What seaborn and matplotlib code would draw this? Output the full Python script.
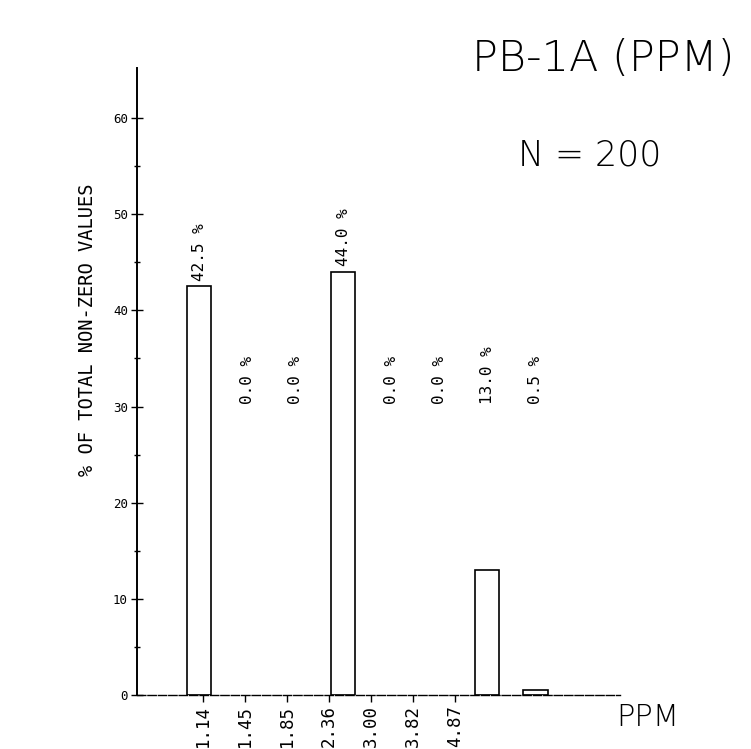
import matplotlib
matplotlib.use("Agg")
import matplotlib.pyplot as plt
import seaborn as sns
import pandas as pd
import numpy as np

# Data
bins = ["b1", "b2", "b3", "b4", "b5", "b6", "b7", "b8"]
percent = [42.5, 0.0, 0.0, 44.0, 0.0, 0.0, 13.0, 0.5]
bar_labels = ["42.5 %", "0.0 %", "0.0 %", "44.0 %", "0.0 %", "0.0 %", "13.0 %", "0.5 %"]
edge_labels = ["1.14", "1.45", "1.85", "2.36", "3.00", "3.82", "4.87"]
y_ticks = [0, 10, 20, 30, 40, 50, 60]

title = "PB-1A (PPM)"
n_text = "N = 200"
x_unit = "PPM"
y_label = "% OF TOTAL NON-ZERO VALUES"

sns.set_theme(style="white")
plt.rcParams['font.family'] = ['DejaVu Sans Mono', 'DejaVu Sans']
plt.rcParams['text.color'] = 'black'
plt.rcParams['xtick.color'] = 'black'
plt.rcParams['ytick.color'] = 'black'

fig = plt.figure(figsize=(7.51, 7.49), dpi=100)
ax = fig.add_axes([137/751, 54/749, (620-137)/751, (695-68)/749])

df = pd.DataFrame({"pos": np.arange(len(bins)), "pct": percent})
nz = df[df["pct"] > 0]
ax.bar(nz["pos"], nz["pct"], width=0.5, color="white", edgecolor="black", linewidth=1.2)

ax.set_xlim(-1.30, 8.76)
ax.set_ylim(0, 65.2)

# bar labels
for i, (v, lab) in enumerate(zip(percent, bar_labels)):
    ypos = max(v + 0.6, 30.3)
    ax.text(i, ypos, lab, rotation=90, ha="center", va="bottom", fontsize=11.5, color="black")

# x ticks (bin edges)
tick_pos = [0.07 + 0.875 * k for k in range(len(edge_labels))]
ax.set_xticks(tick_pos)
ax.set_xticklabels(edge_labels, rotation=90, fontsize=12.5, va="top")
ax.tick_params(axis="x", direction="out", length=5, width=1, bottom=True, pad=2)

ax.set_yticks(y_ticks)
ax.set_yticklabels([str(t) for t in y_ticks], fontsize=9)
ax.set_yticks([5, 15, 25, 35, 45, 55], minor=True)
ax.tick_params(axis="y", which="major", direction="inout", length=9, width=1, left=True, pad=2)
ax.tick_params(axis="y", which="minor", direction="inout", length=5, width=1, left=True)

for s in ["top", "right"]:
    ax.spines[s].set_visible(False)
ax.spines["left"].set_color("black")
ax.spines["left"].set_linewidth(1.4)
ax.spines["bottom"].set_color("black")
ax.spines["bottom"].set_linewidth(1.0)
ax.spines["bottom"].set_linestyle((0, (6, 1.5)))

fig.text(88/751, 1 - 330/749, y_label, rotation=90, ha="center", va="center", fontsize=13.5)
light = dict(family=['DejaVu Sans'], fontweight='light', color='black')
fig.text(603/751, 1 - 58/749, title, ha="center", va="center", fontsize=31, **light)
fig.text(590/751, 1 - 155/749, n_text, ha="center", va="center", fontsize=25, **light)
fig.text(648/751, 1 - 718/749, x_unit, ha="center", va="center", fontsize=22, **light)

fig.savefig("out.png", dpi=100, facecolor="white")
